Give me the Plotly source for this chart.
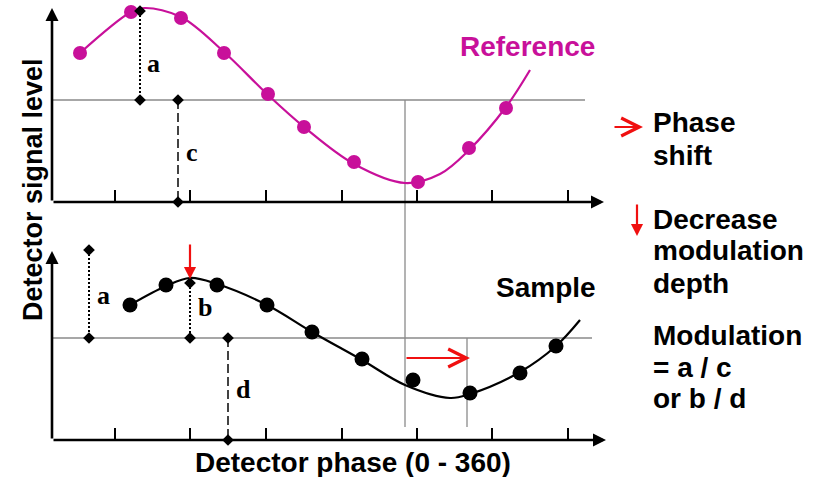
import plotly.graph_objects as go

# ---------------- data (diagram units: phase -> right, signal level -> down) -------------
tick_phase = [115, 190, 266, 342, 417, 492, 568]

ref_pts_x = [80, 131, 181, 224, 268, 304, 354, 418, 469, 506]
ref_pts_y = [53, 12, 18, 53, 94, 127, 162, 182, 148, 108]
ref_curve_x = [80, 131, 145, 181, 224, 268, 304, 354, 405, 440, 469, 506, 530]
ref_curve_y = [53, 12, 8, 17, 52, 95, 127, 164, 183, 174, 150, 107, 70]

smp_pts_x = [130, 166, 217, 267, 312, 362, 413, 470, 520, 556]
smp_pts_y = [305, 285, 285, 305, 332, 359, 380, 393, 373, 346]
smp_curve_x = [130, 166, 190, 217, 267, 312, 362, 405, 450, 470, 520, 556, 580]
smp_curve_y = [305, 286, 278, 284, 305, 332, 360, 385, 398, 394, 372, 346, 320]

# panel geometry (origin x, axis level, top of y axis, baseline level)
top_panel = dict(x0=52, axis=202, ytop=8, base=100, base_end=585, xtip=604)
bot_panel = dict(x0=52, axis=440, ytop=251, base=338, base_end=592, xtip=606)

# measurement markers
dotted_x = [140, 89, 190]
dotted_y0 = [11, 250, 283]
dotted_y1 = [100, 338, 338]
dashed_x = [178, 228]
dashed_y0 = [100, 338]
dashed_y1 = [202, 440]
meas_labels = ["a", "c", "a", "b", "d"]
meas_label_x = [153, 192, 103, 205, 243]
meas_label_y = [63, 152, 295, 307, 389]

MAG = "#C8109A"
RED = "#F01010"
GRAY = "#8A8A8A"

fig = go.Figure()

def seg_trace(xs0, ys0, xs1, ys1, color, width, dash="solid"):
    xx, yy = [], []
    for a, b, c, d in zip(xs0, ys0, xs1, ys1):
        xx += [a, c, None]
        yy += [b, d, None]
    fig.add_trace(go.Scatter(x=xx, y=yy, mode="lines",
                             line=dict(color=color, width=width, dash=dash),
                             hoverinfo="skip"))

# gray reference lines
seg_trace([top_panel["x0"], bot_panel["x0"], 405, 467],
          [top_panel["base"], bot_panel["base"], top_panel["base"], bot_panel["base"]],
          [top_panel["base_end"], bot_panel["base_end"], 405, 467],
          [top_panel["base"], bot_panel["base"], 427, 427], GRAY, 1.3)

# ticks
for p in (top_panel, bot_panel):
    seg_trace(tick_phase, [p["axis"]] * len(tick_phase), tick_phase,
              [p["axis"] - 12] * len(tick_phase), "black", 2)

# dotted / dashed measurement lines
seg_trace(dotted_x, dotted_y0, dotted_x, dotted_y1, "black", 2, "2px,2px")
seg_trace(dashed_x, dashed_y0, dashed_x, dashed_y1, "#222222", 1.7, "9px,4px")

# curves
fig.add_trace(go.Scatter(x=ref_curve_x, y=ref_curve_y, mode="lines",
                         line=dict(color=MAG, width=2.2, shape="spline", smoothing=1.0),
                         hoverinfo="skip"))
fig.add_trace(go.Scatter(x=smp_curve_x, y=smp_curve_y, mode="lines",
                         line=dict(color="black", width=2.2, shape="spline", smoothing=1.0),
                         hoverinfo="skip"))
fig.add_trace(go.Scatter(x=ref_pts_x, y=ref_pts_y, mode="markers",
                         marker=dict(color=MAG, size=14, line=dict(width=0)),
                         hoverinfo="skip"))
fig.add_trace(go.Scatter(x=smp_pts_x, y=smp_pts_y, mode="markers",
                         marker=dict(color="black", size=15, line=dict(width=0)),
                         hoverinfo="skip"))

# diamonds at ends of measurement lines
fig.add_trace(go.Scatter(x=dotted_x + dotted_x + dashed_x + dashed_x,
                         y=dotted_y0 + dotted_y1 + dashed_y0 + dashed_y1,
                         mode="markers",
                         marker=dict(symbol="diamond", color="black", size=9),
                         hoverinfo="skip"))

annotations = []

def arrow(x0, y0, x1, y1, color, width, head, size=1.0):
    annotations.append(dict(x=x1, y=y1, ax=x0, ay=y0, xref="x", yref="y",
                            axref="x", ayref="y", text="", showarrow=True,
                            arrowhead=head, arrowsize=size, arrowwidth=width,
                            arrowcolor=color, standoff=0, startstandoff=0))

# axes with arrows
for p in (top_panel, bot_panel):
    arrow(p["x0"], p["axis"], p["x0"], p["ytop"], "black", 2.6, 2, 1.0)
    arrow(p["x0"], p["axis"], p["xtip"], p["axis"], "black", 2.6, 2, 1.0)

# red arrows
arrow(190, 243, 190, 279, RED, 2.2, 2, 1.1)
arrow(405, 358, 470, 358, RED, 2.2, 5, 1.6)
arrow(613, 127, 643, 127, RED, 2.2, 5, 1.6)
arrow(637, 203, 637, 236, RED, 2.2, 2, 1.1)

BOLD = dict(family="Liberation Sans", size=28, color="black", weight="bold")

def text(x, y, s, font, xanchor="center", angle=0):
    annotations.append(dict(x=x, y=y, xref="x", yref="y", text=s, showarrow=False,
                            font=font, xanchor=xanchor, yanchor="middle",
                            textangle=angle))

for s, x, y in zip(meas_labels, meas_label_x, meas_label_y):
    text(x, y, s, dict(family="Liberation Serif", size=26, color="black", weight="bold"))

text(527, 46, "Reference", dict(BOLD, color=MAG))
text(546, 287, "Sample", BOLD)
text(353, 462, "Detector phase (0 - 360)", BOLD)
text(33, 190, "Detector signal level", dict(BOLD, size=27), angle=-90)

right_lines = ["Phase", "shift", "Decrease", "modulation", "depth",
               "Modulation", "= a / c", "or b / d"]
right_y = [122, 155, 219, 250, 283, 335, 367, 398]
for s, y in zip(right_lines, right_y):
    text(651, y, s, BOLD, xanchor="left")

fig.update_layout(
    width=819, height=477,
    margin=dict(l=0, r=0, t=0, b=0),
    paper_bgcolor="white", plot_bgcolor="white",
    showlegend=False,
    xaxis=dict(range=[0, 819], visible=False, fixedrange=True),
    yaxis=dict(range=[477, 0], visible=False, fixedrange=True),
    annotations=annotations,
)

fig.write_html("out.html")
